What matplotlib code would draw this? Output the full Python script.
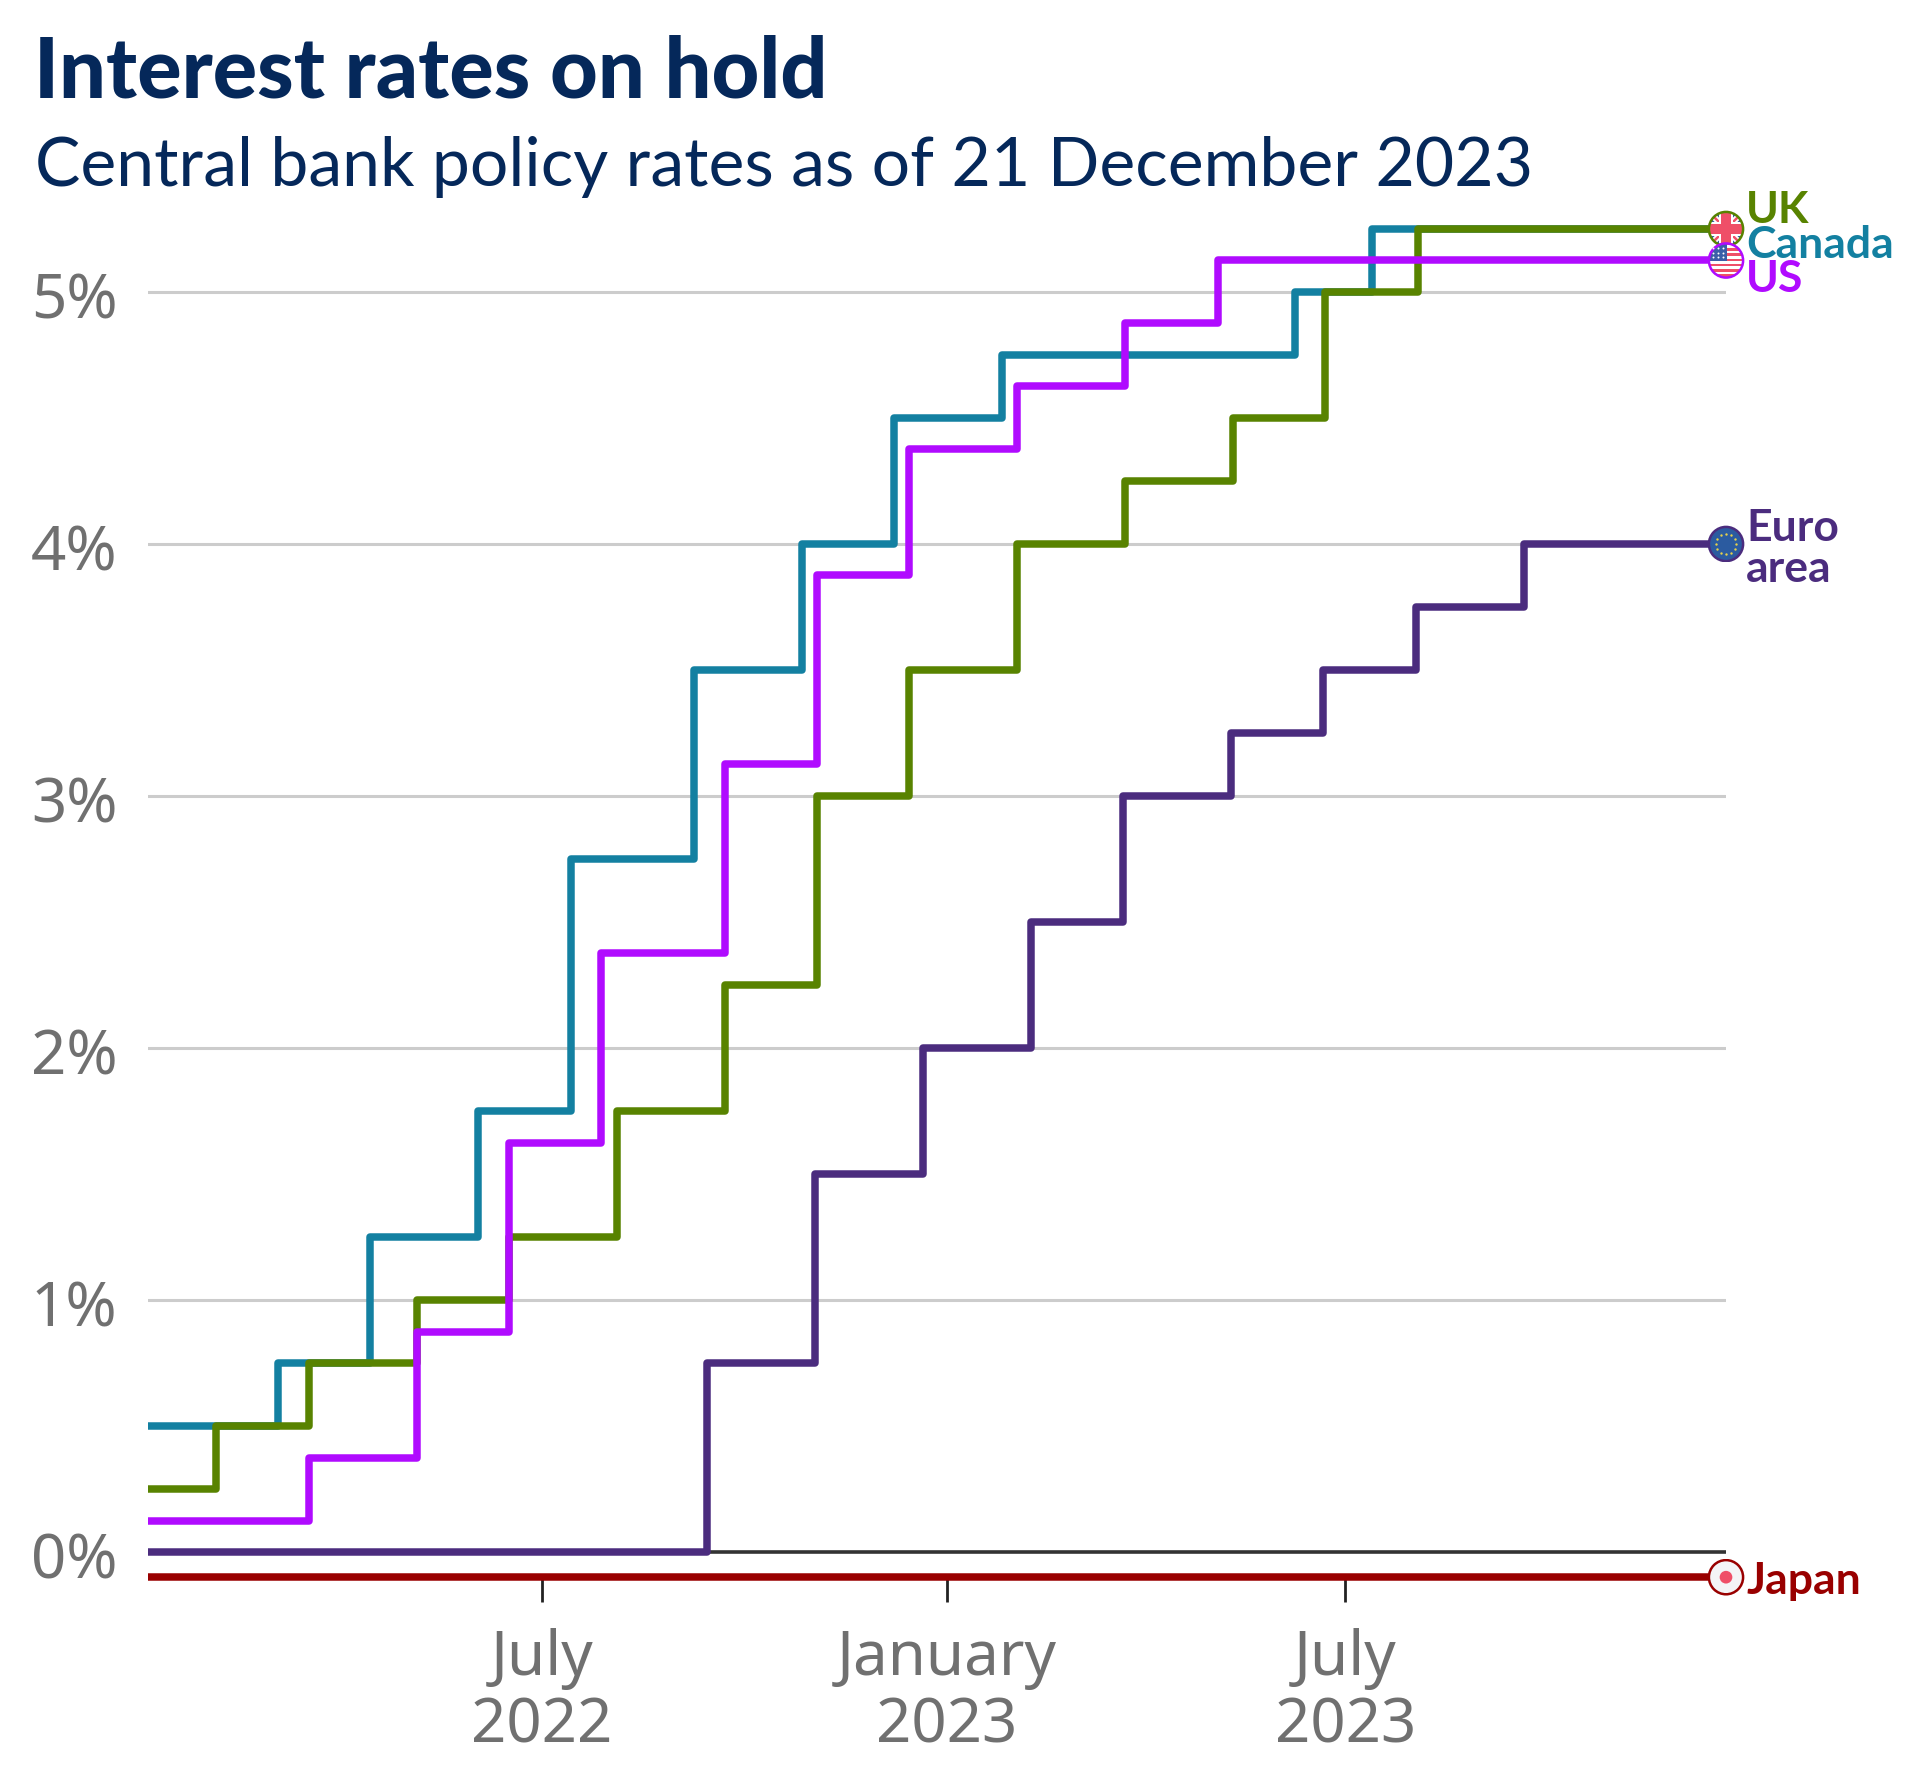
import matplotlib
matplotlib.use("Agg")
import matplotlib.pyplot as plt
import matplotlib.dates as mdates
import matplotlib.transforms as mtransforms
import numpy as np
import pandas as pd
from matplotlib.patches import Circle, Polygon, Rectangle

plt.rcParams['font.family'] = ['Lato', 'DejaVu Sans']

W, H = 1920, 1779
DPI = 100

# rate series: start value plus every change, dates
start_date = "2022-01-03"
end_date = "2023-12-21"

canada_dates = ["2022-03-03", "2022-04-14", "2022-06-02", "2022-07-14", "2022-09-08",
                "2022-10-27", "2022-12-08", "2023-01-26", "2023-06-08", "2023-07-13"]
canada_rates = [0.5, 0.75, 1.25, 1.75, 2.75, 3.5, 4.0, 4.5, 4.75, 5.0, 5.25]

uk_dates = ["2022-02-03", "2022-03-17", "2022-05-05", "2022-06-16", "2022-08-04", "2022-09-22",
            "2022-11-03", "2022-12-15", "2023-02-02", "2023-03-23", "2023-05-11", "2023-06-22",
            "2023-08-03"]
uk_rates = [0.25, 0.5, 0.75, 1.0, 1.25, 1.75, 2.25, 3.0, 3.5, 4.0, 4.25, 4.5, 5.0, 5.25]

us_dates = ["2022-03-17", "2022-05-05", "2022-06-16", "2022-07-28", "2022-09-22",
            "2022-11-03", "2022-12-15", "2023-02-02", "2023-03-23", "2023-05-04"]
us_rates = [0.125, 0.375, 0.875, 1.625, 2.375, 3.125, 3.875, 4.375, 4.625, 4.875, 5.125]

euro_dates = ["2022-09-14", "2022-11-02", "2022-12-21", "2023-02-08", "2023-03-22",
              "2023-05-10", "2023-06-21", "2023-08-02", "2023-09-20"]
euro_rates = [0.0, 0.75, 1.5, 2.0, 2.5, 3.0, 3.25, 3.5, 3.75, 4.0]

japan_dates = []
japan_rates = [-0.1]

y_ticks = [0, 1, 2, 3, 4, 5]
y_labels = ["0%", "1%", "2%", "3%", "4%", "5%"]
x_ticks = ["2022-07-01", "2023-01-01", "2023-07-01"]
x_labels = ["July\n2022", "January\n2023", "July\n2023"]

TEAL = "#1380A1"
GREEN = "#588300"
PURPLE = "#B00BFF"
EURO = "#4B2C7E"
RED = "#990000"
NAVY = "#05285A"
GREY = "#707070"


def steps(dates, rates):
    x = pd.to_datetime([start_date] + dates + [end_date])
    y = list(rates) + [rates[-1]]
    return x, y


def flag_axes(fig, ax, value):
    # small square axes around the end of a line, -1..1 inside the circle
    d = 37
    px, py = ax.transData.transform((mdates.date2num(pd.Timestamp(end_date)), value))
    fax = fig.add_axes([(px - d / 2) / W, (py - d / 2) / H, d / W, d / H])
    fax.set_xlim(-1.05, 1.05)
    fax.set_ylim(-1.05, 1.05)
    fax.axis("off")
    fax.patch.set_alpha(0)
    return fax


def finish_flag(fax, colour, shapes):
    clip = Circle((0, 0), 1, transform=fax.transData)
    for s in shapes:
        fax.add_artist(s)
        s.set_clip_path(clip)
    fax.add_patch(Circle((0, 0), 0.97, fc="none", ec=colour, lw=1.8))


def uk_flag(fax):
    shapes = [Rectangle((-1, -1), 2, 2, fc="#2F5A9E")]
    for sx in (1, -1):
        shapes.append(Polygon([(-1 * sx, 0.75), (-0.75 * sx, 1), (1 * sx, -0.75), (0.75 * sx, -1)], fc="white"))
        shapes.append(Polygon([(-1 * sx, 0.9), (-0.9 * sx, 1), (1 * sx, -0.9), (0.9 * sx, -1)], fc="#EF4F68"))
    shapes.append(Rectangle((-1, -0.4), 2, 0.8, fc="white"))
    shapes.append(Rectangle((-0.4, -1), 0.8, 2, fc="white"))
    shapes.append(Rectangle((-1, -0.26), 2, 0.52, fc="#EF4F68"))
    shapes.append(Rectangle((-0.26, -1), 0.52, 2, fc="#EF4F68"))
    finish_flag(fax, GREEN, shapes)


def us_flag(fax):
    shapes = [Rectangle((-1, -1), 2, 2, fc="white")]
    for k in range(7):
        shapes.append(Rectangle((-1, 0.86 - k * 0.3), 2, 0.15, fc="#EF4F68"))
    shapes.append(Rectangle((-1, -0.05), 1.05, 1.05, fc="#3B5FA8"))
    finish_flag(fax, PURPLE, shapes)
    sx, sy = np.meshgrid([-0.75, -0.45, -0.15], [0.2, 0.45, 0.7])
    fax.scatter(sx.ravel(), sy.ravel(), s=2, c="white", linewidths=0)


def eu_flag(fax):
    finish_flag(fax, EURO, [Rectangle((-1, -1), 2, 2, fc="#2B5BA0")])
    a = np.arange(12) * np.pi / 6
    fax.scatter(0.58 * np.cos(a), 0.58 * np.sin(a), s=3, c="#E8D24A", linewidths=0)


def japan_flag(fax):
    finish_flag(fax, RED, [Rectangle((-1, -1), 2, 2, fc="#F4F4F6"), Circle((0, 0), 0.36, fc="#EF4F68")])


fig = plt.figure(figsize=(W / DPI, H / DPI), dpi=DPI)

left, right = 148, 1726
bottom, top = 1578, 200
px_per_unit = 252
y0 = 1552
ax = fig.add_axes([left / W, 1 - bottom / H, (right - left) / W, (bottom - top) / H])
ax.set_ylim((y0 - bottom) / px_per_unit, (y0 - top) / px_per_unit)
ax.set_xlim(pd.Timestamp(start_date), pd.Timestamp(end_date))

for s in ax.spines.values():
    s.set_visible(False)
ax.set_yticks(y_ticks)
ax.set_yticklabels(y_labels, fontsize=44.5, color=GREY, family="Noto Sans")
ax.tick_params(axis="y", length=0, pad=22)
nudge = mtransforms.Affine2D().translate(0, -3)
for lab in ax.get_yticklabels():
    lab.set_transform(lab.get_transform() + nudge)
ax.set_xticks(pd.to_datetime(x_ticks))
ax.set_xticklabels(x_labels, fontsize=44.5, color=GREY, linespacing=1.12, family="Noto Sans")
ax.tick_params(axis="x", length=17, width=2.0, color="#222222", pad=19)

for v in y_ticks[1:]:
    ax.axhline(v, color="#CCCCCC", lw=2.2, zorder=1)
ax.axhline(0, color="#333333", lw=2.6, zorder=1)

for dates, rates, colour in [(canada_dates, canada_rates, TEAL), (uk_dates, uk_rates, GREEN),
                             (us_dates, us_rates, PURPLE), (euro_dates, euro_rates, EURO),
                             (japan_dates, japan_rates, RED)]:
    x, y = steps(dates, rates)
    ax.step(x, y, where="post", color=colour, lw=5.4, solid_joinstyle="round",
            solid_capstyle="butt", clip_on=False, zorder=3)

label_x = 1746
labels = [("UK", 223, GREEN), ("Canada", 258, TEAL), ("US", 292, PURPLE),
          ("Euro", 541, EURO), ("area", 582, EURO), ("Japan", 1594, RED)]
for text, ypx, colour in labels:
    fig.text(label_x / W, 1 - ypx / H, text, fontsize=32, fontweight="bold", color=colour,
             ha="left", va="baseline")

fig.canvas.draw()
uk_flag(flag_axes(fig, ax, uk_rates[-1]))
us_flag(flag_axes(fig, ax, us_rates[-1]))
eu_flag(flag_axes(fig, ax, euro_rates[-1]))
japan_flag(flag_axes(fig, ax, japan_rates[-1]))

fig.text(34 / W, 1 - 98 / H, "Interest rates on hold", fontsize=59.6, fontweight="black", color=NAVY,
         ha="left", va="baseline")
fig.text(35 / W, 1 - 186 / H, "Central bank policy rates as of 21 December 2023", fontsize=48.9, color=NAVY,
         ha="left", va="baseline")

fig.savefig("out.png", dpi=DPI)
